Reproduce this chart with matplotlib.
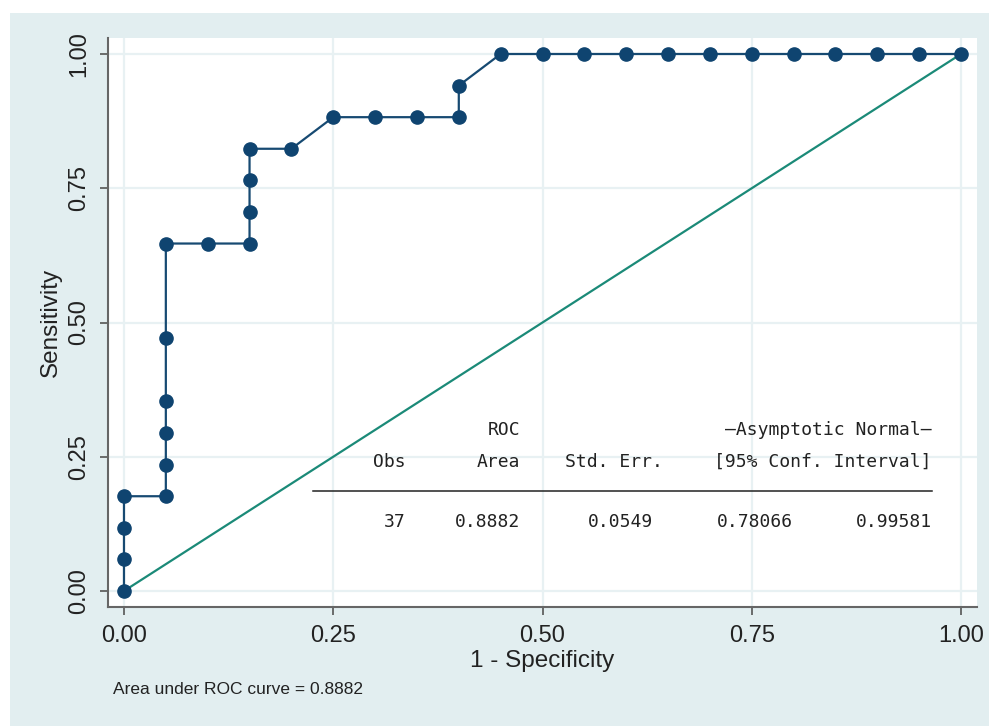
import matplotlib
matplotlib.use("Agg")
import matplotlib.pyplot as plt

# ROC points (1 - specificity, sensitivity)
fpr = [0.00, 0.00, 0.00, 0.00, 0.05, 0.05, 0.05, 0.05, 0.05, 0.05, 0.10, 0.15,
       0.15, 0.15, 0.15, 0.20, 0.25, 0.30, 0.35, 0.40, 0.40, 0.45, 0.50, 0.55,
       0.60, 0.65, 0.70, 0.75, 0.80, 0.85, 0.90, 0.95, 1.00]
tpr = [0/17, 1/17, 2/17, 3/17, 3/17, 4/17, 5/17, 6/17, 8/17, 11/17, 11/17, 11/17,
       12/17, 13/17, 14/17, 14/17, 15/17, 15/17, 15/17, 15/17, 16/17, 1.0, 1.0, 1.0,
       1.0, 1.0, 1.0, 1.0, 1.0, 1.0, 1.0, 1.0, 1.0]
ref_x = [0.0, 1.0]
ref_y = [0.0, 1.0]
ticks = [0.0, 0.25, 0.5, 0.75, 1.0]
tick_labels = ["0.00", "0.25", "0.50", "0.75", "1.00"]

hdr1 = [("ROC", 0.473), ("\u2014Asymptotic Normal\u2014", 0.965)]
hdr2 = [("Obs", 0.336), ("Area", 0.473), ("Std. Err.", 0.644), ("[95% Conf. Interval]", 0.965)]
vals = [("37", 0.336), ("0.8882", 0.473), ("0.0549", 0.632), ("0.78066", 0.799), ("0.99581", 0.965)]
note = "Area under ROC curve = 0.8882"

plt.rcParams['font.family'] = ['Liberation Sans', 'DejaVu Sans']
W, H = 989, 726
fig = plt.figure(figsize=(W / 100, H / 100), dpi=100)
fig.patch.set_facecolor("white")
bg = "#e2eef0"
bgax = fig.add_axes([10 / W, 0, 1 - 10 / W, (H - 13) / H], zorder=-5)
bgax.set_facecolor(bg)
bgax.set_xticks([])
bgax.set_yticks([])
for s in bgax.spines.values():
    s.set_visible(False)

ax = fig.add_axes([108 / W, (H - 607) / H, (977 - 108) / W, (607 - 38) / H], zorder=1)
ax.set_facecolor("white")
ax.set_xlim(-0.0191, 1.0191)
ax.set_ylim(-0.0298, 1.0298)

for t in ticks:
    ax.axhline(t, color="#e8f1f3", lw=1.6, zorder=1)
    ax.axvline(t, color="#e8f1f3", lw=1.6, zorder=1)

ax.plot(ref_x, ref_y, color="#1b8a78", lw=1.6, zorder=2)
ax.plot(fpr, tpr, color="#174a72", lw=1.6, marker="o", markersize=9.5,
        markerfacecolor="#0f4470", markeredgecolor="#0f4470", zorder=3)

ax.set_xticks(ticks)
ax.set_xticklabels(tick_labels)
ax.set_yticks(ticks)
ax.set_yticklabels(tick_labels, rotation=90, va="center")
ax.tick_params(axis="both", direction="out", length=6, width=1.2, color="#555555",
               labelsize=17, labelcolor="#222222", pad=7)
for s in ["top", "right"]:
    ax.spines[s].set_visible(False)
for s in ["left", "bottom"]:
    ax.spines[s].set_color("#666666")
    ax.spines[s].set_linewidth(1.5)

ax.set_xlabel("1 - Specificity", fontsize=17.5, color="#222222", labelpad=2)
ax.set_ylabel("Sensitivity", fontsize=17.5, color="#222222", labelpad=4)

mono = dict(family=["DejaVu Sans Mono"], fontsize=13, color="#222222", ha="right", va="center")
for txt, x in hdr1:
    ax.text(x, 0.300, txt, **mono)
for txt, x in hdr2:
    ax.text(x, 0.240, txt, **mono)
for txt, x in vals:
    ax.text(x, 0.128, txt, **mono)
ax.plot([0.226, 0.965], [0.186, 0.186], color="#222222", lw=1.1, zorder=2)

fig.text(113 / W, (H - 690) / H, note, fontsize=12.5, color="#222222", ha="left", va="center")

fig.savefig("out.png", dpi=100)
